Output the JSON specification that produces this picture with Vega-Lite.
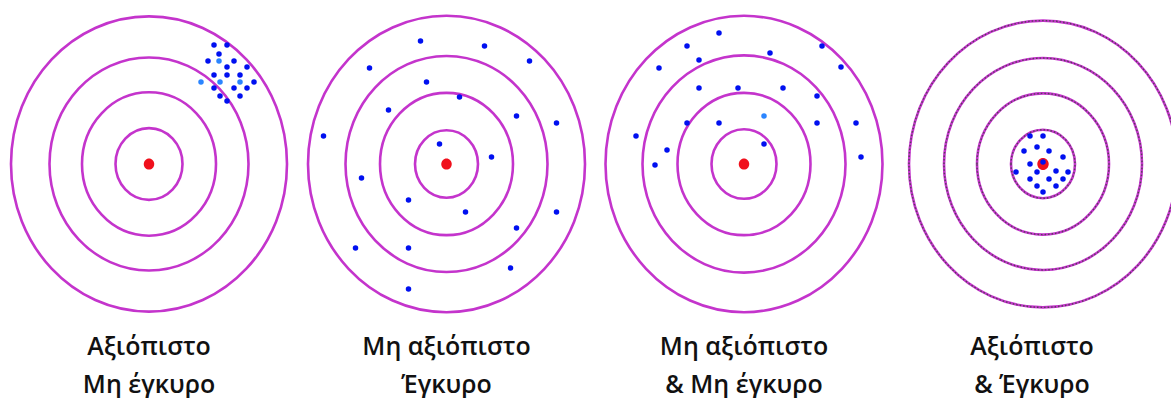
{
  "$schema": "https://vega.github.io/schema/vega-lite/v6.json",
  "background": "white",
  "padding": 0,
  "spacing": 0,
  "config": {
    "view": {"stroke": null},
    "scale": {"nice": false, "zero": false},
    "title": {"font": "Open Sans", "fontSize": 25, "fontWeight": 600, "color": "#111111", "orient": "bottom", "anchor": "middle", "frame": "group", "offset": 10, "lineHeight": 38, "baseline": "top"}
  },
  "resolve": {"scale": {"x": "independent", "y": "independent", "size": "independent", "color": "independent"}},
  "datasets": {
    "rings": [
      {"target": 1, "r": 138}, {"target": 1, "r": 99.5}, {"target": 1, "r": 67}, {"target": 1, "r": 33.5},
      {"target": 2, "r": 138.5}, {"target": 2, "r": 101}, {"target": 2, "r": 66.5}, {"target": 2, "r": 31.5},
      {"target": 3, "r": 138.5}, {"target": 3, "r": 101.5}, {"target": 3, "r": 66.5}, {"target": 3, "r": 32.5},
      {"target": 4, "r": 134}, {"target": 4, "r": 99}, {"target": 4, "r": 66}, {"target": 4, "r": 32}
    ],
    "centres": [
      {"target": 1, "x": 0, "y": 0}, {"target": 2, "x": 0, "y": 0}, {"target": 3, "x": 0, "y": 0}, {"target": 4, "x": 0, "y": 0}
    ],
    "hits": [
      {"target": 1, "x": 65, "y": 119, "tone": "dark"}, {"target": 1, "x": 78, "y": 119, "tone": "dark"},
      {"target": 1, "x": 70, "y": 110, "tone": "dark"}, {"target": 1, "x": 59, "y": 103, "tone": "dark"},
      {"target": 1, "x": 70, "y": 103, "tone": "light"}, {"target": 1, "x": 85, "y": 103, "tone": "dark"},
      {"target": 1, "x": 78, "y": 97, "tone": "dark"}, {"target": 1, "x": 98, "y": 97, "tone": "dark"},
      {"target": 1, "x": 65, "y": 89, "tone": "dark"}, {"target": 1, "x": 78, "y": 89, "tone": "dark"},
      {"target": 1, "x": 91, "y": 89, "tone": "dark"}, {"target": 1, "x": 52, "y": 82, "tone": "light"},
      {"target": 1, "x": 71, "y": 82, "tone": "light"}, {"target": 1, "x": 91, "y": 82, "tone": "light"},
      {"target": 1, "x": 105, "y": 82, "tone": "dark"}, {"target": 1, "x": 65, "y": 76, "tone": "dark"},
      {"target": 1, "x": 85, "y": 76, "tone": "dark"}, {"target": 1, "x": 98, "y": 76, "tone": "dark"},
      {"target": 1, "x": 71, "y": 68, "tone": "dark"}, {"target": 1, "x": 91, "y": 68, "tone": "dark"},
      {"target": 1, "x": 78, "y": 63, "tone": "dark"},
      {"target": 2, "x": -26, "y": 123, "tone": "dark"}, {"target": 2, "x": 38, "y": 118, "tone": "dark"},
      {"target": 2, "x": 83, "y": 103, "tone": "dark"}, {"target": 2, "x": -77, "y": 96, "tone": "dark"},
      {"target": 2, "x": -20, "y": 82, "tone": "dark"}, {"target": 2, "x": 13, "y": 67, "tone": "dark"},
      {"target": 2, "x": -58, "y": 54, "tone": "dark"}, {"target": 2, "x": 70, "y": 48, "tone": "dark"},
      {"target": 2, "x": 110, "y": 41, "tone": "dark"}, {"target": 2, "x": -123, "y": 28, "tone": "dark"},
      {"target": 2, "x": -7, "y": 20, "tone": "dark"}, {"target": 2, "x": 45, "y": 7, "tone": "dark"},
      {"target": 2, "x": -85, "y": -14, "tone": "dark"}, {"target": 2, "x": -38, "y": -36, "tone": "dark"},
      {"target": 2, "x": 19, "y": -48, "tone": "dark"}, {"target": 2, "x": 110, "y": -48, "tone": "dark"},
      {"target": 2, "x": 70, "y": -64, "tone": "dark"}, {"target": 2, "x": -91, "y": -84, "tone": "dark"},
      {"target": 2, "x": -38, "y": -84, "tone": "dark"}, {"target": 2, "x": 64, "y": -104, "tone": "dark"},
      {"target": 2, "x": -38, "y": -125, "tone": "dark"},
      {"target": 3, "x": -25, "y": 131, "tone": "dark"}, {"target": 3, "x": -57, "y": 118, "tone": "dark"},
      {"target": 3, "x": 78, "y": 118, "tone": "dark"}, {"target": 3, "x": 26, "y": 111, "tone": "dark"},
      {"target": 3, "x": -45, "y": 104, "tone": "dark"}, {"target": 3, "x": -85, "y": 96, "tone": "dark"},
      {"target": 3, "x": 97, "y": 97, "tone": "dark"}, {"target": 3, "x": -45, "y": 76, "tone": "dark"},
      {"target": 3, "x": -6, "y": 76, "tone": "dark"}, {"target": 3, "x": 39, "y": 76, "tone": "dark"},
      {"target": 3, "x": 73, "y": 68, "tone": "dark"}, {"target": 3, "x": 20, "y": 48, "tone": "light"},
      {"target": 3, "x": -57, "y": 41, "tone": "dark"}, {"target": 3, "x": -25, "y": 41, "tone": "dark"},
      {"target": 3, "x": 73, "y": 41, "tone": "dark"}, {"target": 3, "x": 112, "y": 41, "tone": "dark"},
      {"target": 3, "x": -108, "y": 28, "tone": "dark"}, {"target": 3, "x": 20, "y": 20, "tone": "dark"},
      {"target": 3, "x": -77, "y": 14, "tone": "dark"}, {"target": 3, "x": 117, "y": 7, "tone": "dark"},
      {"target": 3, "x": -89, "y": -1, "tone": "dark"},
      {"target": 4, "x": -13, "y": 28, "tone": "dark"}, {"target": 4, "x": 0, "y": 28, "tone": "dark"},
      {"target": 4, "x": -19, "y": 13, "tone": "dark"}, {"target": 4, "x": -6, "y": 17, "tone": "dark"},
      {"target": 4, "x": 6, "y": 13, "tone": "dark"}, {"target": 4, "x": 20, "y": 7, "tone": "dark"},
      {"target": 4, "x": -13, "y": 0, "tone": "dark"}, {"target": 4, "x": 0, "y": 2, "tone": "dark"},
      {"target": 4, "x": -27, "y": -8, "tone": "dark"}, {"target": 4, "x": -6, "y": -8, "tone": "dark"},
      {"target": 4, "x": 13, "y": -7, "tone": "dark"}, {"target": 4, "x": 25, "y": -8, "tone": "dark"},
      {"target": 4, "x": -13, "y": -15, "tone": "dark"}, {"target": 4, "x": 6, "y": -15, "tone": "dark"},
      {"target": 4, "x": 20, "y": -15, "tone": "dark"}, {"target": 4, "x": -6, "y": -22, "tone": "dark"},
      {"target": 4, "x": 13, "y": -22, "tone": "dark"}, {"target": 4, "x": 0, "y": -28, "tone": "dark"}
    ]
  },
  "hconcat": [
    {
      "width": 298, "height": 325,
      "title": {"text": ["Αξιόπιστο", "Μη έγκυρο"]},
      "layer": [
        {
          "data": {"name": "rings"},
          "transform": [{"filter": "datum.target == 1"}],
          "mark": {"type": "point", "filled": false, "clip": true, "stroke": "#c434cc", "strokeWidth": 2.6, "opacity": 1, "shape": "M-1,0C-1,-0.591,-0.552,-1.07,0,-1.07C0.552,-1.07,1,-0.591,1,0C1,0.591,0.552,1.07,0,1.07C-0.552,1.07,-1,0.591,-1,0Z"},
          "encoding": {
            "x": {"datum": 0, "type": "quantitative", "scale": {"domain": [-149, 149], "nice": false, "zero": false}, "axis": null},
            "y": {"datum": 0, "type": "quantitative", "scale": {"domain": [-161, 164], "nice": false, "zero": false}, "axis": null},
            "size": {"field": "r", "type": "quantitative", "scale": {"type": "pow", "exponent": 2, "domain": [0, 150], "range": [0, 90000], "nice": false}, "legend": null}
          }
        },
        {
          "data": {"name": "centres"},
          "transform": [{"filter": "datum.target == 1"}],
          "mark": {"type": "point", "filled": true, "color": "#f0101c", "size": 110, "opacity": 1, "shape": "M-1,0C-1,-0.591,-0.552,-1.07,0,-1.07C0.552,-1.07,1,-0.591,1,0C1,0.591,0.552,1.07,0,1.07C-0.552,1.07,-1,0.591,-1,0Z"},
          "encoding": {"x": {"field": "x", "type": "quantitative"}, "y": {"field": "y", "type": "quantitative"}}
        },
        {
          "data": {"name": "hits"},
          "transform": [{"filter": "datum.target == 1"}],
          "mark": {"type": "point", "filled": true, "shape": "circle", "size": 30, "opacity": 1},
          "encoding": {
            "x": {"field": "x", "type": "quantitative"},
            "y": {"field": "y", "type": "quantitative"},
            "color": {"field": "tone", "type": "nominal", "scale": {"domain": ["dark", "light"], "range": ["#0010f0", "#2b85ff"]}, "legend": null}
          }
        }
      ]
    },
    {
      "width": 297, "height": 325,
      "title": {"text": ["Μη αξιόπιστο", "Έγκυρο"]},
      "layer": [
        {
          "data": {"name": "rings"},
          "transform": [{"filter": "datum.target == 2"}],
          "mark": {"type": "point", "filled": false, "clip": true, "stroke": "#c434cc", "strokeWidth": 2.6, "opacity": 1, "shape": "M-1,0C-1,-0.591,-0.552,-1.07,0,-1.07C0.552,-1.07,1,-0.591,1,0C1,0.591,0.552,1.07,0,1.07C-0.552,1.07,-1,0.591,-1,0Z"},
          "encoding": {
            "x": {"datum": 0, "type": "quantitative", "scale": {"domain": [-148.5, 148.5], "nice": false, "zero": false}, "axis": null},
            "y": {"datum": 0, "type": "quantitative", "scale": {"domain": [-161, 164], "nice": false, "zero": false}, "axis": null},
            "size": {"field": "r", "type": "quantitative", "scale": {"type": "pow", "exponent": 2, "domain": [0, 150], "range": [0, 90000], "nice": false}, "legend": null}
          }
        },
        {
          "data": {"name": "centres"},
          "transform": [{"filter": "datum.target == 2"}],
          "mark": {"type": "point", "filled": true, "color": "#f0101c", "size": 110, "opacity": 1, "shape": "M-1,0C-1,-0.591,-0.552,-1.07,0,-1.07C0.552,-1.07,1,-0.591,1,0C1,0.591,0.552,1.07,0,1.07C-0.552,1.07,-1,0.591,-1,0Z"},
          "encoding": {"x": {"field": "x", "type": "quantitative"}, "y": {"field": "y", "type": "quantitative"}}
        },
        {
          "data": {"name": "hits"},
          "transform": [{"filter": "datum.target == 2"}],
          "mark": {"type": "point", "filled": true, "shape": "circle", "size": 30, "opacity": 1},
          "encoding": {
            "x": {"field": "x", "type": "quantitative"},
            "y": {"field": "y", "type": "quantitative"},
            "color": {"field": "tone", "type": "nominal", "scale": {"domain": ["dark", "light"], "range": ["#0010f0", "#2b85ff"]}, "legend": null}
          }
        }
      ]
    },
    {
      "width": 298, "height": 325,
      "title": {"text": ["Μη αξιόπιστο", "& Μη έγκυρο"]},
      "layer": [
        {
          "data": {"name": "rings"},
          "transform": [{"filter": "datum.target == 3"}],
          "mark": {"type": "point", "filled": false, "clip": true, "stroke": "#c434cc", "strokeWidth": 2.6, "opacity": 1, "shape": "M-1,0C-1,-0.591,-0.552,-1.07,0,-1.07C0.552,-1.07,1,-0.591,1,0C1,0.591,0.552,1.07,0,1.07C-0.552,1.07,-1,0.591,-1,0Z"},
          "encoding": {
            "x": {"datum": 0, "type": "quantitative", "scale": {"domain": [-149, 149], "nice": false, "zero": false}, "axis": null},
            "y": {"datum": 0, "type": "quantitative", "scale": {"domain": [-161, 164], "nice": false, "zero": false}, "axis": null},
            "size": {"field": "r", "type": "quantitative", "scale": {"type": "pow", "exponent": 2, "domain": [0, 150], "range": [0, 90000], "nice": false}, "legend": null}
          }
        },
        {
          "data": {"name": "centres"},
          "transform": [{"filter": "datum.target == 3"}],
          "mark": {"type": "point", "filled": true, "color": "#f0101c", "size": 110, "opacity": 1, "shape": "M-1,0C-1,-0.591,-0.552,-1.07,0,-1.07C0.552,-1.07,1,-0.591,1,0C1,0.591,0.552,1.07,0,1.07C-0.552,1.07,-1,0.591,-1,0Z"},
          "encoding": {"x": {"field": "x", "type": "quantitative"}, "y": {"field": "y", "type": "quantitative"}}
        },
        {
          "data": {"name": "hits"},
          "transform": [{"filter": "datum.target == 3"}],
          "mark": {"type": "point", "filled": true, "shape": "circle", "size": 30, "opacity": 1},
          "encoding": {
            "x": {"field": "x", "type": "quantitative"},
            "y": {"field": "y", "type": "quantitative"},
            "color": {"field": "tone", "type": "nominal", "scale": {"domain": ["dark", "light"], "range": ["#0010f0", "#2b85ff"]}, "legend": null}
          }
        }
      ]
    },
    {
      "width": 278, "height": 325,
      "title": {"text": ["Αξιόπιστο", "& Έγκυρο"]},
      "layer": [
        {
          "data": {"name": "rings"},
          "transform": [{"filter": "datum.target == 4"}],
          "mark": {"type": "point", "filled": false, "clip": true, "stroke": "#c434cc", "strokeWidth": 2.6, "opacity": 1, "shape": "M-1,0C-1,-0.591,-0.552,-1.07,0,-1.07C0.552,-1.07,1,-0.591,1,0C1,0.591,0.552,1.07,0,1.07C-0.552,1.07,-1,0.591,-1,0Z"},
          "encoding": {
            "x": {"datum": 0, "type": "quantitative", "scale": {"domain": [-150, 128], "nice": false, "zero": false}, "axis": null},
            "y": {"datum": 0, "type": "quantitative", "scale": {"domain": [-161, 164], "nice": false, "zero": false}, "axis": null},
            "size": {"field": "r", "type": "quantitative", "scale": {"type": "pow", "exponent": 2, "domain": [0, 150], "range": [0, 90000], "nice": false}, "legend": null}
          }
        },
        {
          "data": {"name": "rings"},
          "transform": [{"filter": "datum.target == 4"}],
          "mark": {"type": "point", "filled": false, "clip": true, "stroke": "#444444", "strokeWidth": 1.4, "strokeDash": [1.5, 2], "opacity": 0.85, "shape": "M-1,0C-1,-0.591,-0.552,-1.07,0,-1.07C0.552,-1.07,1,-0.591,1,0C1,0.591,0.552,1.07,0,1.07C-0.552,1.07,-1,0.591,-1,0Z"},
          "encoding": {
            "x": {"datum": 0, "type": "quantitative"},
            "y": {"datum": 0, "type": "quantitative"},
            "size": {"field": "r", "type": "quantitative"}
          }
        },
        {
          "data": {"name": "centres"},
          "transform": [{"filter": "datum.target == 4"}],
          "mark": {"type": "point", "filled": true, "color": "#f0101c", "size": 130, "opacity": 1, "shape": "M-1,0C-1,-0.591,-0.552,-1.07,0,-1.07C0.552,-1.07,1,-0.591,1,0C1,0.591,0.552,1.07,0,1.07C-0.552,1.07,-1,0.591,-1,0Z"},
          "encoding": {"x": {"field": "x", "type": "quantitative"}, "y": {"field": "y", "type": "quantitative"}}
        },
        {
          "data": {"name": "hits"},
          "transform": [{"filter": "datum.target == 4"}],
          "mark": {"type": "point", "filled": true, "shape": "circle", "size": 30, "opacity": 1},
          "encoding": {
            "x": {"field": "x", "type": "quantitative"},
            "y": {"field": "y", "type": "quantitative"},
            "color": {"field": "tone", "type": "nominal", "scale": {"domain": ["dark", "light"], "range": ["#0010f0", "#2b85ff"]}, "legend": null}
          }
        }
      ]
    }
  ]
}
